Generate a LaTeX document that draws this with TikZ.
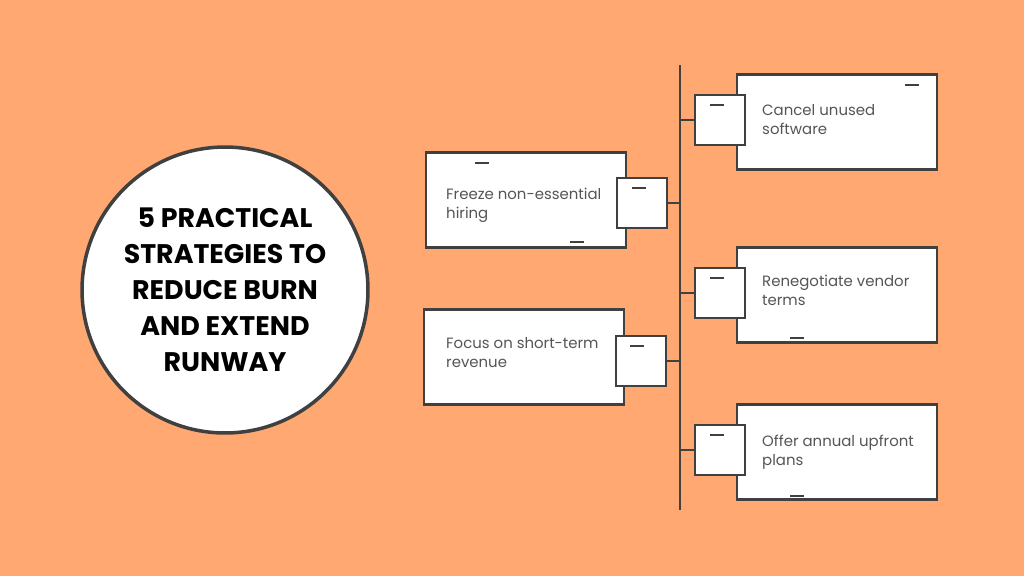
\documentclass[tikz,border=0pt]{standalone}
\usepackage{fontspec}
\setmainfont{Poppins}
\usetikzlibrary{positioning}
\definecolor{bgorange}{RGB}{255,168,114}
\definecolor{inkgray}{RGB}{64,64,64}
\definecolor{textgray}{RGB}{85,85,85}
\tikzset{
    card/.style={
        rectangle,
        draw=inkgray,
        line width=1.6pt,
        fill=white,
        minimum width=4cm,
        minimum height=1.9cm
    },
    tab/.style={
        rectangle,
        draw=inkgray,
        line width=1.4pt,
        fill=white,
        minimum size=1cm
    },
    cardtext/.style={
        font=\fontsize{8.5}{10.8}\selectfont,
        text=textgray,
        align=left,
        anchor=north west
    },
    spine/.style={
        draw=inkgray,
        line width=1.4pt
    }
}

\begin{document}
\begin{tikzpicture}[x=0.02cm, y=-0.02cm]

% Background
\fill[bgorange] (0,0) rectangle (1024,576);

% Title circle
\node[circle, draw=inkgray, line width=2pt, fill=white, minimum size=5.72cm, inner sep=0pt,
      font=\fontsize{15.3}{20.5}\selectfont\bfseries, align=center] (title) at (225,290)
      {5 PRACTICAL\\STRATEGIES TO\\REDUCE BURN\\AND EXTEND\\RUNWAY};

% Spine
\coordinate (top) at (680,65);
\coordinate (bottom) at (680,510);
\draw[spine] (top) -- (bottom);

% Right cards
\node[card] (cancel) at (837,122) {};
\node[tab] (cancel_tab) at (720,120) {};
\node[card] (vendor) at (837,295) {};
\node[tab] (vendor_tab) at (720,293) {};
\node[card] (annual) at (837,452) {};
\node[tab] (annual_tab) at (720,450) {};

% Left cards
\node[card] (freeze) at (526,200) {};
\node[tab] (freeze_tab) at (642,203) {};
\node[card] (focus) at (524,357) {};
\node[tab] (focus_tab) at (641,361) {};

% Ticks
\draw[spine] (cancel_tab.west) -- (680,120);
\draw[spine] (vendor_tab.west) -- (680,293);
\draw[spine] (annual_tab.west) -- (680,450);
\draw[spine] (freeze_tab.east) -- (680,203);
\draw[spine] (focus_tab.east) -- (680,361);

% Labels
\node[cardtext] at (756,98) {Cancel unused\\software};
\node[cardtext] at (756,269) {Renegotiate vendor\\terms};
\node[cardtext] at (756,429) {Offer annual upfront\\plans};
\node[cardtext] at (440,182) {Freeze non-essential\\hiring};
\node[cardtext] at (440,331) {Focus on short-term\\revenue};

% Sketch marks
\foreach \x/\y in {905/85, 475/163, 570/242, 790/338, 790/496, 710/105, 710/278, 710/435, 632/188, 630/346}
    \draw[inkgray, line width=0.8pt] (\x,\y) -- ++(14,0);

\end{tikzpicture}
\end{document}
